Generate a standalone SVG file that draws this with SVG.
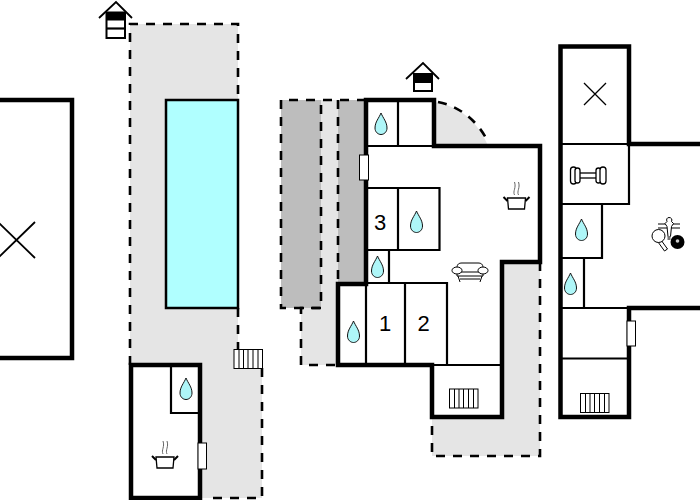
<svg xmlns="http://www.w3.org/2000/svg" width="700" height="500" viewBox="0 0 700 500">
<style>
.yard{fill:#e5e5e5;stroke:none}
.dark{fill:#bdbdbd;stroke:none}
.dash{fill:none;stroke:#000;stroke-width:2.6;stroke-dasharray:9 8}
.wall{fill:none;stroke:#000;stroke-width:4.5;stroke-linejoin:miter}
.thin{fill:none;stroke:#000;stroke-width:2.2}
.roof{fill:none;stroke:#000;stroke-width:1.800}
.icon{fill:none;stroke:#000;stroke-width:1}
.cross{fill:none;stroke:#000;stroke-width:1.300}
.bold{stroke-width:1.300}
.door{fill:#fff;stroke:#000;stroke-width:1}
.num{font-family:"Liberation Sans",Arial,sans-serif;font-size:22px;fill:#000;text-anchor:middle}
</style>
<defs>
<symbol id="drop" overflow="visible"><path d="M0,-11 C2,-6 6,-2 6,4 C6,8 3,10.500 0,10.500 C-3,10.500 -6,8 -6,4 C-6,-2 -2,-6 0,-11Z" fill="#aef6f8" stroke="#111" stroke-width="1"/></symbol>
<symbol id="pot" overflow="visible"><g class="icon"><path d="M-9,-6 H9 L8,5 H-8Z" fill="#fff" stroke-width="1.300"/><path d="M-9,-3 L-13,-7 M9,-3 L13,-7" stroke-width="2"/><path d="M-2,-9 C-4,-13 0,-16 -2,-22 M2,-9 C0,-13 4,-16 2,-22" stroke="#666"/></g></symbol>
<symbol id="stairs" overflow="visible"><g class="icon"><rect x="0" y="0" width="28.500" height="19" fill="#fff"/><path d="M5,0V19M9.500,0V19M14,0V19M19,0V19M24,0V19"/></g></symbol>
</defs>

<g id="yards">
<path class="yard" d="M130,24H238V349H262V498H200V365H130Z"/>
<path class="yard" d="M321,100H338V365H301V308H321Z"/>
<path class="yard" d="M434,146V102C460,106 478,122 488,146Z"/>
<path class="yard" d="M502,262H540V456H432V417H502Z"/>
<rect class="dark" x="281" y="100" width="40" height="208"/>
<rect class="dark" x="338" y="100" width="28" height="184"/>
</g>

<g id="yard-edges">
<path class="dash" d="M130,365V24H238V100"/>
<path class="dash" d="M238,308V349"/>
<path class="dash" d="M262,368V498H206"/>
<path class="dash" d="M366,100H281V308H321V100"/>
<path class="dash" d="M338,100V283"/>
<path class="dash" d="M321,308H301V365H338"/>
<path class="dash" d="M438,102C460,106 478,122 487,140"/>
<path class="dash" d="M540,262V456H432V417"/>
</g>

<g id="left-building">
<rect class="wall" x="-10" y="100" width="82" height="258"/>
<path class="cross" style="stroke-width:1.800" d="M-2,222L35,258M35,222L-2,258"/>
</g>

<g id="pool">
<rect x="166" y="100" width="72" height="208" fill="#b0ffff" stroke="#000" stroke-width="2.500"/>
</g>

<g id="entrance-left">
<path d="M99,18L116,2L132,18" class="roof"/>
<rect x="106.500" y="12.500" width="18.500" height="25.500" fill="#fff" stroke="#000" stroke-width="2"/>
<rect x="106.500" y="12.500" width="18.500" height="8" fill="#000"/>
<path d="M106.500,28.500H125" class="thin"/>
</g>

<g id="stairs-yard"><use href="#stairs" x="234" y="349.500"/></g>

<g id="pool-house">
<rect x="131" y="365" width="69" height="133" fill="#fff" stroke="#000" stroke-width="4.500"/>
<path class="thin" d="M171,365V413H200"/>
<use href="#drop" x="186" y="389"/>
<use href="#pot" x="165" y="463"/>
<rect class="door" x="198" y="443" width="8.500" height="26"/>
</g>

<g id="entrance-centre">
<path d="M406,79L423,63L439,79" class="roof"/>
<rect x="414" y="74" width="18" height="17" fill="#fff" stroke="#000" stroke-width="2"/>
<rect x="414" y="74" width="18" height="9" fill="#000"/>
</g>

<g id="centre-building">
<path d="M366,100H434V146H540V262H502V417H432V365H338V284H366Z" fill="#fff" stroke="#000" stroke-width="4.500"/>
<path class="thin" d="M398,100V146M366,146H434"/>
<path class="thin" d="M366,188H439.500V250H366M398,188V250"/>
<path class="thin" d="M389,250V283"/>
<path class="thin" d="M338,283H447V365M366,283V365M405,283V365"/>
<path class="thin" d="M432,365H502"/>
<rect class="door" x="359.500" y="155" width="9" height="25"/>
<use href="#drop" x="381" y="124"/>
<use href="#drop" x="416.500" y="222"/>
<use href="#drop" x="377.500" y="267"/>
<use href="#drop" x="353.500" y="332"/>
<text class="num" x="380" y="230">3</text>
<text class="num" x="385" y="331">1</text>
<text class="num" x="423.500" y="331">2</text>
<use href="#pot" x="516.500" y="204"/>
<g id="sofa" class="icon">
<path d="M457,268C457,264 459,263 462,263H478C481,263 483,264 483,268V276H457Z" fill="#fff"/>
<path d="M457,272H483M458,276L460,282M482,276L480,282M460,279H480"/>
<ellipse cx="457" cy="270.500" rx="5" ry="3.500" fill="#fff"/>
<ellipse cx="483" cy="270.500" rx="5" ry="3.500" fill="#fff"/>
</g>
<use href="#stairs" x="449.500" y="389"/>
</g>

<g id="right-building">
<path d="M700,144H629V46.500H560.500V417H629V308H700" fill="#fff" stroke="#000" stroke-width="4.500"/>
<path class="thin" d="M560,144H629V204H560M602,204V258H560M584,258V308M560,308H629M560,358.500H629"/>
<path class="cross" d="M584,83L606,105M606,83L584,105"/>
<g id="dumbbell" class="icon bold">
<rect x="577" y="173" width="22" height="5" fill="#fff"/>
<rect x="570.500" y="167" width="6" height="17" rx="3" fill="#fff"/>
<rect x="575" y="168" width="5" height="15" rx="2.500" fill="#fff"/>
<rect x="596" y="168" width="5" height="15" rx="2.500" fill="#fff"/>
<rect x="600" y="167" width="6" height="17" rx="3" fill="#fff"/>
</g>
<use href="#drop" x="581.500" y="230"/>
<use href="#drop" x="570.500" y="284"/>
<rect class="door" x="627" y="321" width="8.500" height="25"/>
<use href="#stairs" x="580.500" y="393.500"/>
<g id="games">
<path d="M658,224H680M658,228H680" class="icon"/>
<path d="M669,217.500c-2,0-3,2-2,4l-2,2l2,3l1,10h2.500l1,-10l2,-3l-2,-2c1,-2 0,-4 -2.500,-4Z" fill="#fff" stroke="#000" stroke-width="1"/>
<path d="M669,236V240" stroke="#777" stroke-width="3"/>
<path d="M661,240L667.500,249L664.500,251L658,242Z" fill="#fff" stroke="#000" stroke-width="1"/>
<circle cx="658.500" cy="236" r="6.500" fill="#fff" stroke="#000" stroke-width="1"/>
<circle cx="677.500" cy="242" r="7" fill="#000"/>
<circle cx="677.500" cy="241" r="1.800" fill="#ccc"/>
</g>
</g>
</svg>
